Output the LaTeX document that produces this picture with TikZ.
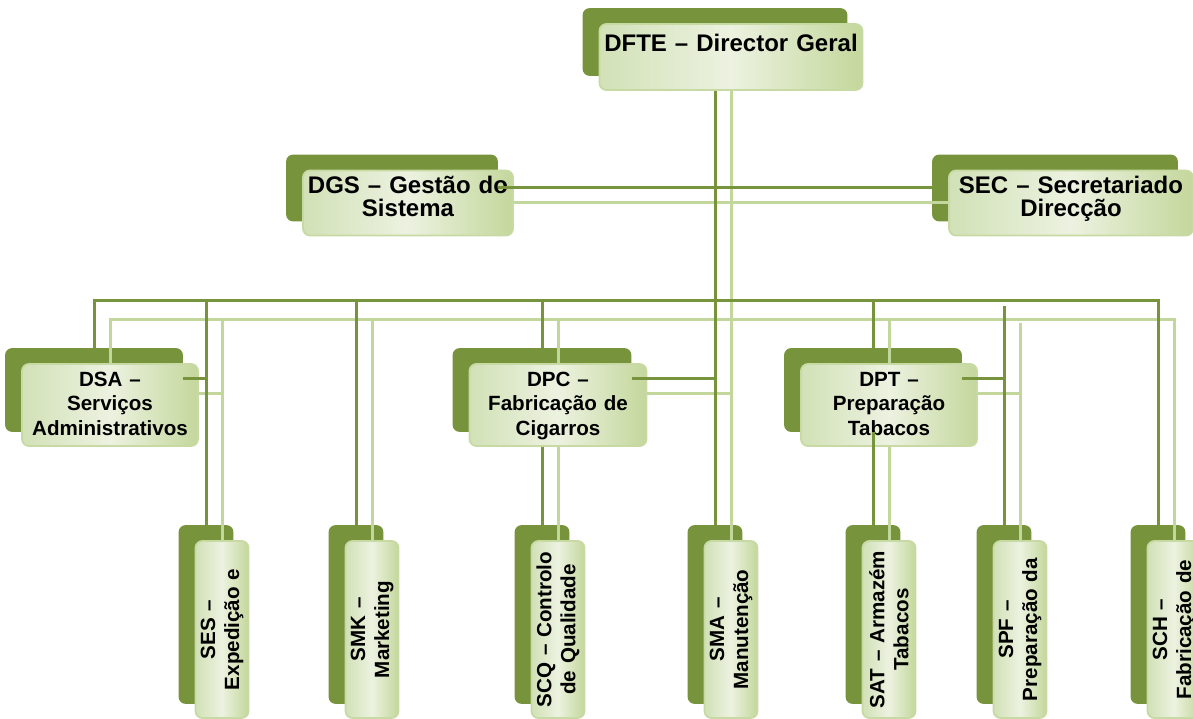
\documentclass[tikz,border=0pt]{standalone}
\usepackage{fontspec}
\setmainfont{Liberation Sans}
\usetikzlibrary{fit,backgrounds}

\definecolor{olivedk}{RGB}{119,147,60}
\definecolor{olivelt}{RGB}{195,214,155}
\definecolor{boxedge}{RGB}{200,218,163}
\definecolor{boxpale}{RGB}{236,242,224}
\definecolor{boxmid}{RGB}{210,225,183}
\definecolor{boxdeep}{RGB}{196,215,156}

\begin{document}
\begin{tikzpicture}[x=1pt, y=-1pt,
    ltbox/.style={draw=boxedge, line width=1.8pt, rounded corners=7pt, left color=boxmid, right color=boxdeep, middle color=boxpale, inner xsep=4pt, inner ysep=0pt, align=center, text=black},
    topbox/.style={ltbox, font=\fontsize{24}{23}\selectfont\bfseries, text height=23pt, text depth=42pt},
    midbox/.style={ltbox, font=\fontsize{20.6}{24.5}\selectfont\bfseries, text height=22pt, text depth=60pt},
    lowbox/.style={ltbox, rotate=90, font=\fontsize{20.6}{24}\selectfont\bfseries, minimum width=177pt, minimum height=53pt, text width=170pt, inner sep=0pt},
    dkbox/.style={fill=olivedk, draw=none, rounded corners=7pt, inner sep=0pt},
    dkline/.style={draw=olivedk, line width=3pt},
    ltline/.style={draw=olivelt, line width=3pt},
]
\useasboundingbox (0,0) rectangle (1193,719);

\node[topbox, text width=255pt, text height=28pt, text depth=38pt] (dfte) at (731,57) {DFTE – Director Geral};

\node[topbox, text width=202pt] (dgs) at (408,203) {DGS – Gestão do\\Sistema};
\node[topbox, text width=236pt] (sec) at (1071,203) {SEC – Secretariado\\Direcção};

\node[midbox, text width=168pt] (dsa) at (110,405) {DSA –\\Serviços\\Administrativos};
\node[midbox, text width=169pt] (dpc) at (558,405) {DPC –\\Fabricação de\\Cigarros};
\node[midbox, text width=168pt] (dpt) at (889,405) {DPT –\\Preparação\\Tabacos};

\node[lowbox] (ses) at (222,629.5) {SES –\\Expedição e};
\node[lowbox] (smk) at (372,629.5) {SMK –\\Marketing};
\node[lowbox] (scq) at (558,629.5) {SCQ – Controlo\\de Qualidade};
\node[lowbox] (sma) at (731,629.5) {SMA –\\Manutenção};
\node[lowbox] (sat) at (889,629.5) {SAT – Armazém\\Tabacos};
\node[lowbox] (spf) at (1020,629.5) {SPF –\\Preparação da};
\node[lowbox] (sch) at (1174,629.5) {SCH –\\Fabricação de};

% dark copies behind every box
\begin{pgfonlayer}{background}
\foreach \n in {dfte,dgs,sec,dsa,dpc,dpt,ses,smk,scq,sma,sat,spf,sch}
  \node[dkbox, fit={([shift={(-16,-15)}]\n.south west) ([shift={(-16,-15)}]\n.north east)}] (\n-bk) {};
\end{pgfonlayer}

\coordinate (lvd) at (715,300);
\coordinate (lvl) at (731,319);
\coordinate (spfd) at (1004,306);
\coordinate (spfl) at (1020,323);

% light connectors
\draw[ltline] (dfte.south) -- (sma.east);
\draw[ltline] (dgs.east) -- (sec.west);
\draw[ltline] (dsa.north) -- (dsa.north |- lvl) -- (sch.east |- lvl) -- (sch.east);
\foreach \n/\a in {ses/east,smk/east,dpc/north,dpt/north}
  \draw[ltline] (\n.\a |- lvl) -- (\n.\a);
\draw[ltline] ([yshift=12pt]dsa.east) -| (ses.east);
\draw[ltline] ([yshift=12pt]dpc.east) -| (sma.east);
\draw[ltline] ([yshift=12pt]dpt.east) -| (spf.east);
\draw[ltline] (spfl) -- (spf.east);
\draw[ltline] (dpc.south) -- (scq.east);
\draw[ltline] (dpt.south) -- (sat.east);

% dark connectors
\draw[dkline] ([xshift=-16pt]dfte.south) -- (sma-bk.north);
\draw[dkline] (dgs-bk.east) -- (sec-bk.west);
\draw[dkline] (dsa-bk.north) -- (dsa-bk.north |- lvd) -- (sch-bk.north |- lvd) -- (sch-bk.north);
\foreach \n in {ses,smk,dpc,dpt}
  \draw[dkline] (\n-bk.north |- lvd) -- (\n-bk.north);
\draw[dkline] ([yshift=12pt]dsa-bk.east) -| (ses-bk.north);
\draw[dkline] ([yshift=12pt]dpc-bk.east) -| (sma-bk.north);
\draw[dkline] ([yshift=12pt]dpt-bk.east) -| (spf-bk.north);
\draw[dkline] (spfd) -- (spf-bk.north);
\draw[dkline] (dpc-bk.south |- dpc.south) -- (scq-bk.north);
\draw[dkline] (dpt-bk.south) -- (sat-bk.north);
\end{tikzpicture}
\end{document}
